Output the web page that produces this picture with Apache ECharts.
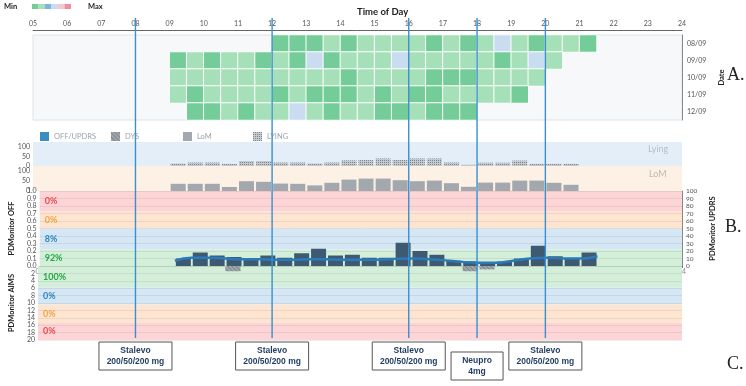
<!DOCTYPE html>
<html>
<head>
<meta charset="utf-8">
<script src="https://cdn.jsdelivr.net/npm/echarts@6/dist/echarts.min.js"></script>
<style>
html,body{margin:0;padding:0;background:#fff}
#main{width:746px;height:386px}
</style>
</head>
<body>
<div id="main"></div>
<script>
// ---- data ----
var dates = ['08/09', '09/09', '10/09', '11/09', '12/09'];
// heat codes: 0 = dark green, 1 = light green, 3 = light blue
var heatStart = [12, 9, 9, 9, 9.5];
var heat0809 = [0,0,0,1,0,1,1,1,1,0,1,0,1,3,1,0,1,1,0];
var heat0909 = [0,1,0,1,1,0,1,0,3,0,1,1,1,3,1,1,1,1,1,0,1,3,1];
var heat1009 = [1,1,1,1,1,1,1,1,1,1,0,1,1,1,1,0,0,0,1,1,1,1];
var heat1109 = [1,0,1,1,1,1,0,1,0,0,0,1,0,1,0,0,1,1,1,1,0];
var heat1209 = [0,0,1,0,1,1,3,1,0,1,1,0,0,1,0,0,0];
var heatColors = ['#74cd99', '#a6e0b9', '#7db4de', '#c9dcf0', '#f9c5cf', '#ee8ea0'];

// half-hour slots starting at 09:00
var barStart = 9;
var lyingVals = [13,18,18,11,26,26,18,18,13,18,29,31,39,31,39,39,18,6,17,17,28,11,11,11];
var lomVals = [36,36,36,20,49,46,37,36,28,41,57,62,62,54,49,52,39,21,42,42,52,52,41,31];
var updrsVals = [10,18,14,12,8,14,11,17,23,14,15,11,11,31,20,15,7,6,5,6,10,27,13,10,18];
var aimsVals = [0,0,0,1.4,0,0,0,0,0,0,0,0,0,0,0,0,0,1.4,0.9,0,0,0,0,0,0];
// OFF probability at half-hour boundaries 09:00 .. 21:30
var offVals = [0.07,0.11,0.11,0.10,0.09,0.09,0.085,0.085,0.09,0.09,0.085,0.085,0.085,0.095,0.10,0.09,0.075,0.055,0.045,0.045,0.07,0.10,0.11,0.10,0.10,0.13];

var offBands = [0, 0.22, 0.5, 0.73, 1];
var offPct = ['92%', '8%', '0%', '0%'];
var aimsBands = [0, 5.8, 10.4, 15.4, 20];
var aimsPct = ['100%', '0%', '0%', '0%'];
var bandColors = ['#d3efd9', '#d5e7f4', '#fde5d1', '#fdd5d6'];
var pctColors = ['#27a847', '#2f85c1', '#f5a443', '#ee4a4d'];

var medTimes = [8, 12, 16, 18, 20];
var medNames = ['Stalevo', 'Stalevo', 'Stalevo', 'Neupro', 'Stalevo'];
var medDoses = ['200/50/200 mg', '200/50/200 mg', '200/50/200 mg', '4mg', '200/50/200 mg'];

// ---- build ----
var chart = echarts.init(document.getElementById('main'));

function pad(v) { return (v < 10 ? '0' : '') + v; }

var heatRows = [heat0809, heat0909, heat1009, heat1109, heat1209];
var heatData = [];
heatRows.forEach(function (row, r) {
  var s = (heatStart[r] - 5) * 2;
  row.forEach(function (v, i) { heatData.push([s + i, r, v]); });
});
var slots = [];
for (var i = 0; i < 38; i++) slots.push(i);

function slotData(vals) {
  return vals.map(function (v, i) { return [barStart + i * 0.5 + 0.25, v]; });
}
var offData = offVals.map(function (v, i) { return [barStart + i * 0.5, v]; });

function bandAreas(edges, pct) {
  var out = [];
  for (var k = 0; k < pct.length; k++) {
    out.push([
      { yAxis: edges[k], name: pct[k], itemStyle: { color: bandColors[k] }, label: { color: pctColors[k] } },
      { yAxis: edges[k + 1] }
    ]);
  }
  return out;
}

var tick = { fontSize: 7, color: '#555', fontFamily: 'Lato' };
var nameStyle = { fontSize: 7.5, fontWeight: 'bold', color: '#222', fontFamily: 'Lato' };
var L = 33, R = 64;

var legendBase = {
  top: 127, itemWidth: 9, itemHeight: 9, icon: 'rect', selectedMode: false,
  textStyle: { fontSize: 7.5, color: '#9aa3ac', fontFamily: 'Lato' }
};

// Min..Max colour key for the heatmap
var keyGraphic = heatColors.map(function (c, k) {
  return { type: 'rect', left: 32 + k * 6.5, top: 4, shape: { width: 6.5, height: 5 }, style: { fill: c } };
});

var option = {
  animation: false,
  title: {
    text: 'Time of Day', left: 352, top: 2,
    textStyle: { fontSize: 9.5, fontWeight: 'bold', color: '#222', fontFamily: 'Lato' }
  },
  legend: [
    Object.assign({ left: 35, data: [{ name: 'OFF/UPDRS', itemStyle: { color: '#3a8cc4' } }] }, legendBase),
    Object.assign({ left: 106, data: ['DYS'] }, legendBase),
    Object.assign({ left: 178, data: ['LoM'] }, legendBase),
    Object.assign({ left: 248, data: ['LYING'] }, legendBase)
  ],
  visualMap: {
    type: 'piecewise', seriesIndex: 0, show: false,
    pieces: heatColors.map(function (c, k) { return { value: k, color: c }; })
  },
  grid: [
    { left: L, right: R, top: 35, height: 85, show: true, backgroundColor: '#f7f8f9', borderColor: '#dde4ea', borderWidth: 1 },
    { left: L, right: R, top: 142, height: 24, show: true, backgroundColor: '#e3eef8', borderWidth: 0 },
    { left: L, right: R, top: 166, height: 25, show: true, backgroundColor: '#fdf0e4', borderWidth: 0 },
    { left: L, right: R, top: 191, height: 75 },
    { left: L, right: R, top: 266, height: 74 },
    { left: L, right: R, top: 18, height: 320 }
  ],
  xAxis: [
    { type: 'category', gridIndex: 0, data: slots, show: false },
    { type: 'value', gridIndex: 0, position: 'top', offset: 5, min: 5, max: 24, interval: 1,
      axisLine: { show: true, lineStyle: { color: '#666' } }, axisTick: { show: false }, splitLine: { show: false },
      axisLabel: Object.assign({ formatter: pad, margin: 3 }, tick) },
    { type: 'value', gridIndex: 1, min: 5, max: 24, show: false },
    { type: 'value', gridIndex: 2, min: 5, max: 24, show: false },
    { type: 'value', gridIndex: 3, min: 5, max: 24, interval: 1,
      axisLine: { show: true, lineStyle: { color: '#777' } }, axisTick: { show: true, length: 2 }, splitLine: { show: false },
      axisLabel: Object.assign({}, tick, { formatter: pad, margin: 2, color: '#888' }) },
    { type: 'value', gridIndex: 4, min: 5, max: 24, show: false },
    { type: 'value', gridIndex: 5, min: 5, max: 24, show: false }
  ],
  yAxis: [
    { type: 'category', gridIndex: 0, data: dates, inverse: true, position: 'right',
      axisLine: { show: true, lineStyle: { color: '#888' } }, axisTick: { show: false },
      axisLabel: Object.assign({ margin: 5 }, tick),
      name: 'Date', nameLocation: 'middle', nameRotate: 90, nameGap: 32, nameTextStyle: nameStyle },
    { type: 'value', gridIndex: 1, min: 0, max: 125, interval: 50,
      axisLine: { show: false }, axisTick: { show: false }, splitLine: { show: false },
      axisLabel: Object.assign({ margin: 3, showMaxLabel: false }, tick) },
    { type: 'value', gridIndex: 2, min: 0, max: 125, interval: 50,
      axisLine: { show: false }, axisTick: { show: false }, splitLine: { show: false },
      axisLabel: Object.assign({ margin: 3, showMaxLabel: false }, tick) },
    { type: 'value', gridIndex: 3, min: 0, max: 1, interval: 0.1, z: 1.5,
      axisLine: { show: false }, axisTick: { show: false },
      splitLine: { show: true, lineStyle: { color: 'rgba(0,0,0,0.07)' } },
      axisLabel: Object.assign({ margin: 3, formatter: function (v) { return v.toFixed(1); } }, tick),
      name: 'PDMonitor OFF', nameLocation: 'middle', nameRotate: 90, nameGap: 17, nameTextStyle: nameStyle },
    { type: 'value', gridIndex: 3, position: 'right', min: 0, max: 100, interval: 10,
      axisLine: { show: true, lineStyle: { color: '#888' } }, axisTick: { show: false }, splitLine: { show: false },
      axisLabel: Object.assign({ margin: 4 }, tick, { fontSize: 6.5 }),
      name: 'PDMonitor UPDRS', nameLocation: 'middle', nameRotate: 90, nameGap: 22, nameTextStyle: nameStyle },
    { type: 'value', gridIndex: 4, inverse: true, min: 0, max: 20, interval: 2, z: 1.5,
      axisLine: { show: false }, axisTick: { show: false },
      splitLine: { show: true, lineStyle: { color: 'rgba(0,0,0,0.07)' } },
      axisLabel: Object.assign({ margin: 3, formatter: function (v) { return v === 0 ? '' : v; } }, tick),
      name: 'PDMonitor AIMS', nameLocation: 'middle', nameRotate: 90, nameGap: 17, nameTextStyle: nameStyle },
    { type: 'value', gridIndex: 5, min: 0, max: 1, show: false }
  ],
  series: [
    { type: 'heatmap', xAxisIndex: 0, yAxisIndex: 0, data: heatData,
      itemStyle: { borderColor: '#fff', borderWidth: 1 } },
    { name: 'LYING', type: 'bar', xAxisIndex: 2, yAxisIndex: 1, data: slotData(lyingVals), barWidth: 15,
      itemStyle: { color: '#c3c9cf', decal: { symbol: 'rect', symbolSize: 1, dashArrayX: [1, 1], dashArrayY: [1, 1], color: '#7f878f' } } },
    { name: 'LoM', type: 'bar', xAxisIndex: 3, yAxisIndex: 2, data: slotData(lomVals), barWidth: 15,
      itemStyle: { color: '#a2a8ae' } },
    { name: 'OFF/UPDRS', type: 'bar', xAxisIndex: 4, yAxisIndex: 4, data: slotData(updrsVals), barWidth: 15,
      itemStyle: { color: '#3e5a72' }, z: 3 },
    { name: 'OFF', type: 'line', xAxisIndex: 4, yAxisIndex: 3, data: offData, smooth: true, symbol: 'none',
      lineStyle: { color: '#2b7bba', width: 2.5 }, z: 4,
      markArea: { silent: true, label: { position: 'insideLeft', fontSize: 9, fontWeight: 'bold', fontFamily: 'Lato' },
        data: bandAreas(offBands, offPct) } },
    { name: 'DYS', type: 'bar', xAxisIndex: 5, yAxisIndex: 5, data: slotData(aimsVals), barWidth: 15,
      itemStyle: { color: '#a0a7ad', decal: { symbol: 'rect', symbolSize: 1, dashArrayX: [1, 0], dashArrayY: [1, 2], rotation: 0.785, color: '#7c848b' } },
      markArea: { silent: true, label: { position: 'insideLeft', fontSize: 9, fontWeight: 'bold', fontFamily: 'Lato' },
        data: bandAreas(aimsBands, aimsPct) } },
    { type: 'custom', xAxisIndex: 6, yAxisIndex: 6, clip: false, silent: true, z: 10,
      data: medTimes.map(function (t) { return [t, 0]; }),
      renderItem: function (params, api) {
        var cs = params.coordSys;
        var i = params.dataIndex;
        var x = api.coord([api.value(0), 0])[0];
        var w = medDoses[i].length > 6 ? 73 : 52;
        var top = cs.y + cs.height + 4 + (medNames[i] === 'Neupro' ? 10 : 0);
        return { type: 'group', children: [
          { type: 'line', shape: { x1: x, y1: cs.y, x2: x, y2: cs.y + cs.height }, style: { stroke: '#3a8fd0', lineWidth: 1.4 } },
          { type: 'rect', shape: { x: x - w / 2, y: top, width: w, height: 28 }, style: { fill: '#fff', stroke: '#555', lineWidth: 1 } },
          { type: 'text', style: { text: medNames[i] + '\n' + medDoses[i], x: x, y: top + 14, align: 'center', verticalAlign: 'middle',
            fontSize: 8.5, fontWeight: 'bold', fontFamily: 'Liberation Sans', lineHeight: 11, fill: '#1f3a5f' } }
        ] };
      }
    }
  ],
  graphic: keyGraphic.concat([
    { type: 'text', left: 4, top: 3, style: { text: 'Min', fontSize: 7.5, fontWeight: 'bold', fill: '#222', fontFamily: 'Lato' } },
    { type: 'text', left: 88, top: 3, style: { text: 'Max', fontSize: 7.5, fontWeight: 'bold', fill: '#222', fontFamily: 'Lato' } },
    { type: 'text', left: 648, top: 145, style: { text: 'Lying', fontSize: 9, fill: '#b8bec6', fontFamily: 'Lato' } },
    { type: 'text', left: 649, top: 170, style: { text: 'LoM', fontSize: 9, fill: '#c2b8b0', fontFamily: 'Lato' } },
    { type: 'text', left: 727, top: 66, style: { text: 'A.', fontSize: 18, fill: '#222', fontFamily: 'Liberation Serif' } },
    { type: 'text', left: 725, top: 218, style: { text: 'B.', fontSize: 18, fill: '#222', fontFamily: 'Liberation Serif' } },
    { type: 'text', left: 727, top: 355, style: { text: 'C.', fontSize: 18, fill: '#222', fontFamily: 'Liberation Serif' } }
  ])
};

chart.setOption(option);
</script>
</body>
</html>
